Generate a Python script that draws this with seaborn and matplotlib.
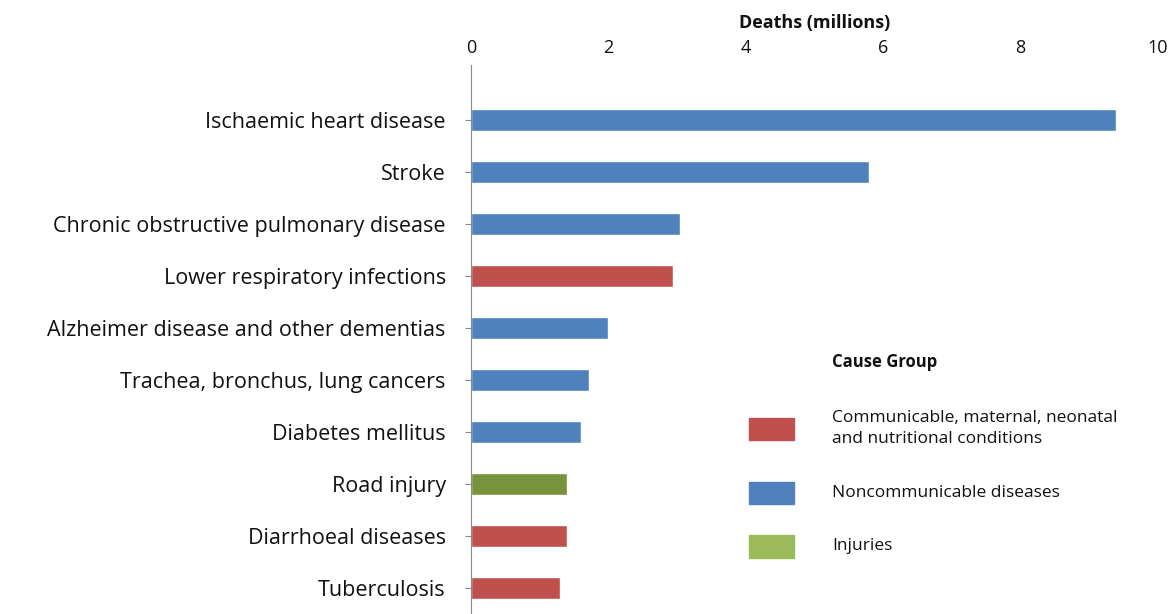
import matplotlib
matplotlib.use("Agg")
import matplotlib.pyplot as plt
import seaborn as sns
import pandas as pd
from matplotlib.patches import Rectangle

causes = ["Ischaemic heart disease", "Stroke", "Chronic obstructive pulmonary disease",
          "Lower respiratory infections", "Alzheimer disease and other dementias",
          "Trachea, bronchus, lung cancers", "Diabetes mellitus", "Road injury",
          "Diarrhoeal diseases", "Tuberculosis"]
deaths = [9.4, 5.8, 3.05, 2.95, 2.0, 1.72, 1.6, 1.4, 1.4, 1.3]
groups = ["N", "N", "N", "C", "N", "N", "N", "I", "C", "C"]
bar_colors = {"C": "#C0504D", "N": "#4F81BD", "I": "#77933C"}
legend_labels = ["Communicable, maternal, neonatal\nand nutritional conditions",
                 "Noncommunicable diseases", "Injuries"]
legend_colors = ["#C0504D", "#4F81BD", "#9BBB59"]

sns.set_style("white")
plt.rcParams['font.family'] = ['Open Sans', 'DejaVu Sans']
plt.rcParams['text.color'] = '#111111'
fig = plt.figure(figsize=(11.74, 6.14), dpi=100)
ax = fig.add_axes([0.401, 0.0, 0.585, 0.894])
df = pd.DataFrame({"cause": causes, "deaths": deaths, "group": groups})
sns.barplot(data=df, x="deaths", y="cause", hue="group", palette=bar_colors,
            dodge=False, width=0.42, legend=False, ax=ax, saturation=1)
ax.set_xlim(0, 10)
ax.set_ylim(9.5, -1.06)
ax.set_xticks([0, 2, 4, 6, 8, 10])
ax.xaxis.tick_top()
ax.xaxis.set_label_position("top")
ax.set_xlabel("Deaths (millions)", fontsize=13, fontweight="bold", labelpad=8, color="#111111")
ax.set_ylabel("")
ax.tick_params(axis="x", labelsize=13, length=0, pad=6, labelcolor="#111111")
ax.tick_params(axis="y", labelsize=15.5, length=4, left=True, color="#888888", pad=14, labelcolor="#111111")
for s in ["top", "right", "bottom"]:
    ax.spines[s].set_visible(False)
ax.spines["left"].set_color("#888888")

fig.text(0.709, 0.41, "Cause Group", fontsize=12, fontweight="bold", va="center")
ys = [0.302, 0.197, 0.11]
for lab, col, y in zip(legend_labels, legend_colors, ys):
    fig.patches.append(Rectangle((0.638, y - 0.018), 0.038, 0.036, color=col,
                                 transform=fig.transFigure))
    fig.text(0.709, y, lab, fontsize=12.5, va="center", linespacing=1.4)

fig.savefig("out.png", dpi=100)
